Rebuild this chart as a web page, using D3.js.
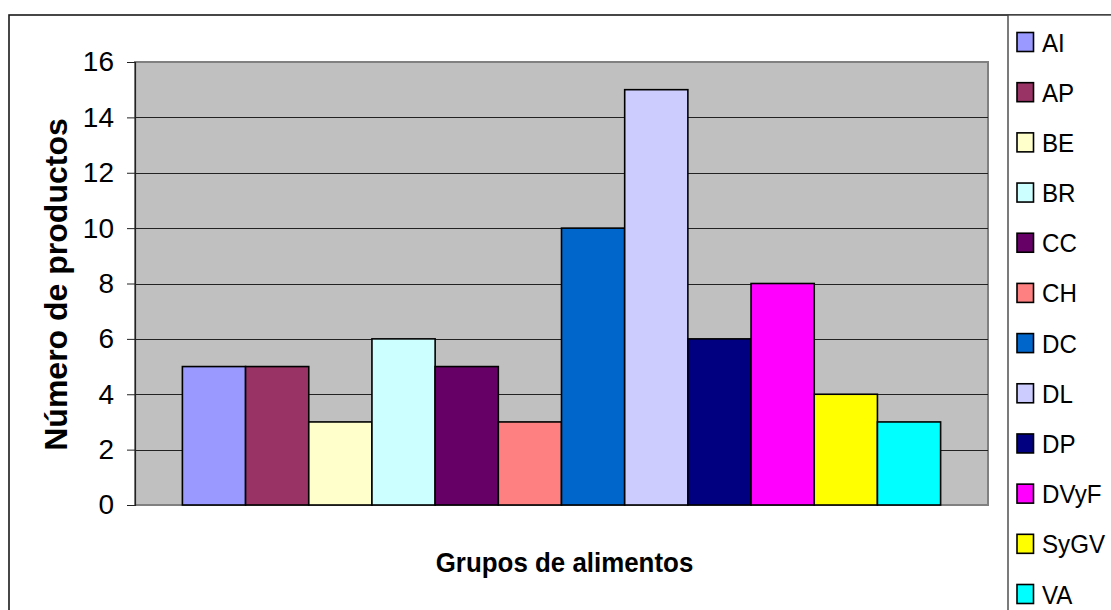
<!DOCTYPE html>
<html>
<head>
<meta charset="utf-8">
<script src="https://cdn.jsdelivr.net/npm/d3@7"></script>
<style>
  html, body { margin: 0; padding: 0; background: #fff; }
  svg { display: block; font-family: "Liberation Sans", Arial, sans-serif; }
</style>
</head>
<body>
<svg id="chart" width="1111" height="610"></svg>
<script>
// Food groups (one bar each) and the number of products in each
const groups = ["AI", "AP", "BE", "BR", "CC", "CH", "DC", "DL", "DP", "DVyF", "SyGV", "VA"];
const counts = [5, 5, 3, 6, 5, 3, 10, 15, 6, 8, 4, 3];
const colors = ["#9999FF", "#993366", "#FFFFCC", "#CCFFFF", "#660066", "#FF8080",
                "#0066CC", "#CCCCFF", "#000080", "#FF00FF", "#FFFF00", "#00FFFF"];
const yTicks = [0, 2, 4, 6, 8, 10, 12, 14, 16];
const yTitle = "Número de productos";
const xTitle = "Grupos de alimentos";

const svg = d3.select("#chart");

// Plot area bounds
const plot = { left: 135, right: 988, top: 62, bottom: 505 };

const x = d3.scaleBand()
  .domain(groups)
  .range([plot.left, plot.right])
  .paddingInner(0)
  .paddingOuter(0.75);

const y = d3.scaleLinear()
  .domain([0, 16])
  .range([plot.bottom, plot.top]);

// Chart frame
svg.append("rect")
  .attr("x", 9).attr("y", 15)
  .attr("width", 1120).attr("height", 620)
  .attr("fill", "#fff")
  .attr("stroke", "#1a1a1a")
  .attr("stroke-width", 1.6);

// Plot background
svg.append("rect")
  .attr("x", plot.left).attr("y", plot.top)
  .attr("width", plot.right - plot.left).attr("height", plot.bottom - plot.top)
  .attr("fill", "#C0C0C0")
  .attr("stroke", "#808080")
  .attr("stroke-width", 2);

// Horizontal gridlines
svg.append("g")
  .selectAll("line")
  .data(yTicks.filter(t => t > 0 && t < 16))
  .join("line")
  .attr("x1", plot.left).attr("x2", plot.right)
  .attr("y1", d => Math.round(y(d)) + 0.5).attr("y2", d => Math.round(y(d)) + 0.5)
  .attr("stroke", "#222")
  .attr("stroke-width", 1);

// Bars
svg.append("g")
  .selectAll("rect")
  .data(groups.map((g, i) => ({ g, v: counts[i], c: colors[i] })))
  .join("rect")
  .attr("x", d => x(d.g))
  .attr("y", d => y(d.v))
  .attr("width", x.bandwidth())
  .attr("height", d => y(0) - y(d.v))
  .attr("fill", d => d.c)
  .attr("stroke", "#000")
  .attr("stroke-width", 1.6);

// Value axis
const yAxis = svg.append("g")
  .attr("transform", `translate(${plot.left},0)`)
  .call(d3.axisLeft(y).tickValues(yTicks).tickSize(8).tickPadding(13).tickFormat(d3.format("d")));
yAxis.select(".domain").attr("stroke", "#222").attr("stroke-width", 1.2);
yAxis.selectAll(".tick line").attr("stroke", "#222");
yAxis.selectAll(".tick text")
  .attr("font-family", "'Liberation Sans', Arial, sans-serif")
  .attr("font-size", 28)
  .attr("fill", "#000");

// Axis titles
svg.append("text")
  .attr("transform", `translate(67,${(plot.top + plot.bottom) / 2 + 1}) rotate(-90)`)
  .attr("text-anchor", "middle")
  .attr("font-size", 32)
  .attr("font-weight", "bold")
  .attr("fill", "#000")
  .text(yTitle);

svg.append("text")
  .attr("transform", `translate(${(plot.left + plot.right) / 2 + 3},572) scale(0.925,1)`)
  .attr("text-anchor", "middle")
  .attr("font-size", 28)
  .attr("font-weight", "bold")
  .attr("fill", "#000")
  .text(xTitle);

// Legend
svg.append("rect")
  .attr("x", 1008).attr("y", 15)
  .attr("width", 200).attr("height", 700)
  .attr("fill", "#fff")
  .attr("stroke", "#444")
  .attr("stroke-width", 1.4);

const ly = d3.scalePoint().domain(groups).range([42, 594]);

const legend = svg.append("g")
  .selectAll("g")
  .data(groups.map((g, i) => ({ g, c: colors[i] })))
  .join("g")
  .attr("transform", d => `translate(0,${ly(d.g)})`);

legend.append("rect")
  .attr("x", 1017).attr("y", -9.5)
  .attr("width", 16.5).attr("height", 19)
  .attr("fill", d => d.c)
  .attr("stroke", "#000")
  .attr("stroke-width", 1.6);

legend.append("text")
  .attr("transform", "translate(1042,9.5) scale(0.93,1)")
  .attr("font-size", 26)
  .attr("fill", "#000")
  .text(d => d.g);
</script>
</body>
</html>
